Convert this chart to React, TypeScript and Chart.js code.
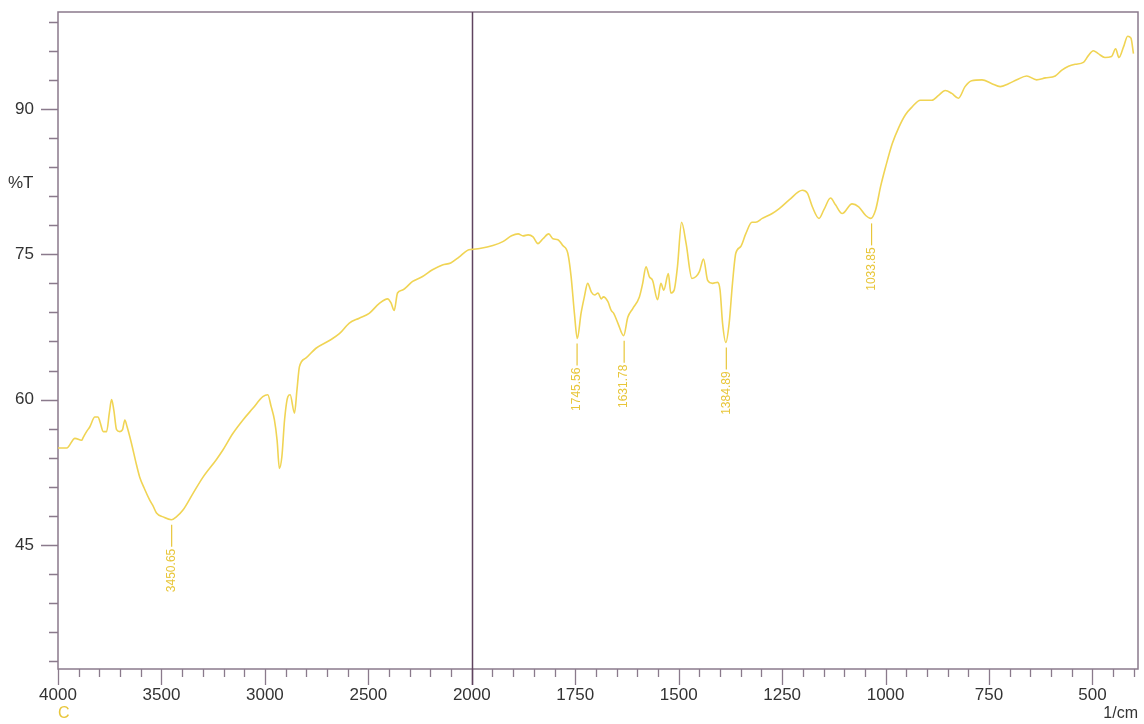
import { useEffect, useRef } from 'react';
import { Chart, LinearScale, registerables } from 'chart.js';

// ---- data ----
const wavenumbers = [
  4000, 3990, 3958, 3918, 3886, 3878, 3862, 3846, 3822, 3806, 3797, 3781, 3765, 3752, 3741, 3730, 3717, 3701, 3688, 3677,
  3666, 3645, 3621, 3605, 3580, 3556, 3540, 3524, 3492, 3452, 3428, 3396, 3348, 3299, 3235, 3203, 3155, 3106, 3058, 3010,
  2986, 2970, 2954, 2941, 2930, 2918, 2905, 2889, 2878, 2857, 2845, 2833, 2801, 2753, 2688, 2640, 2592, 2544, 2496, 2448,
  2407, 2391, 2375, 2359, 2335, 2286, 2238, 2190, 2142, 2102, 2062, 2021, 2000, 1981, 1949, 1925, 1904, 1888, 1876, 1864,
  1852, 1840, 1828, 1814, 1804, 1792, 1780, 1768, 1760, 1752, 1745, 1736, 1728, 1720, 1711, 1703, 1695, 1687, 1682, 1671,
  1663, 1657, 1647, 1633, 1623, 1611, 1595, 1587, 1579, 1571, 1563, 1551, 1543, 1536, 1525, 1519, 1511, 1503, 1493, 1482,
  1468, 1458, 1450, 1440, 1430, 1418, 1406, 1400, 1394, 1386, 1378, 1370, 1362, 1350, 1338, 1323, 1314, 1298, 1274, 1257,
  1233, 1201, 1189, 1177, 1161, 1149, 1133, 1121, 1105, 1081, 1065, 1048, 1036, 1024, 1012, 1000, 984, 968, 952, 936,
  916, 888, 872, 856, 840, 824, 808, 792, 767, 743, 723, 703, 683, 659, 635, 614, 590, 574, 558, 542,
  522, 510, 498, 486, 470, 454, 444, 436, 425, 415, 407, 401,
];
const transmittance = [
  55.0, 55.0, 55.0, 56.0, 55.8, 56.1, 56.7, 57.2, 58.2, 58.2, 57.7, 56.7, 56.7, 58.6, 60.0, 58.9, 56.9, 56.7, 56.9, 57.9,
  57.2, 55.5, 53.3, 52.0, 50.7, 49.6, 49.0, 48.3, 47.9, 47.6, 47.9, 48.6, 50.3, 52.0, 53.8, 54.8, 56.5, 57.9, 59.1, 60.3,
  60.5, 59.3, 57.9, 55.8, 52.9, 54.1, 57.9, 60.3, 60.5, 58.6, 61.0, 63.4, 64.3, 65.3, 66.1, 66.8, 67.9, 68.4, 68.9, 69.9,
  70.4, 70.0, 69.2, 71.0, 71.3, 72.2, 72.7, 73.4, 73.9, 74.1, 74.7, 75.4, 75.5, 75.6, 75.9, 76.3, 76.9, 77.1, 76.9, 77.0,
  76.8, 76.1, 76.6, 77.1, 76.6, 76.5, 75.9, 75.1, 72.7, 68.9, 66.3, 68.9, 70.6, 72.0, 71.1, 70.8, 71.0, 70.4, 70.6, 70.1,
  69.2, 68.9, 67.9, 66.6, 68.5, 69.4, 70.6, 72.0, 73.7, 72.7, 72.3, 70.3, 72.0, 71.3, 73.0, 71.0, 71.3, 73.7, 78.3, 76.1,
  72.5, 72.7, 73.2, 74.5, 72.3, 72.0, 72.1, 71.3, 67.9, 65.9, 67.9, 72.0, 75.1, 75.8, 77.1, 78.3, 78.3, 78.7, 79.2, 79.7,
  80.6, 81.6, 81.3, 79.9, 78.7, 79.6, 80.8, 80.1, 79.2, 80.2, 79.9, 79.0, 78.7, 79.6, 82.0, 84.0, 86.4, 88.1, 89.4, 90.2,
  90.9, 90.9, 91.4, 91.9, 91.6, 91.1, 92.3, 92.9, 93.0, 92.6, 92.3, 92.6, 93.0, 93.4, 93.0, 93.2, 93.4, 94.0, 94.4, 94.6,
  94.8, 95.5, 96.0, 95.7, 95.3, 95.4, 96.2, 95.3, 96.4, 97.5, 97.3, 95.7,
];
const peakWavenumbers = [3450.65, 1745.56, 1631.78, 1384.89, 1033.85];
const peakTransmittance = [47.6, 66.3, 66.6, 65.9, 78.7];
const xTickLabels = [4000, 3500, 3000, 2500, 2000, 1750, 1500, 1250, 1000, 750, 500];
const yTickLabels = [45, 60, 75, 90];

const X_MAX = 4000;
const X_MIN = 390;
const X_BREAK = 2000;
const Y_MIN = 32.2;
const Y_MAX = 100;

const LINE = '#f0d454';
const PEAK = '#e8c63a';
const AXIS = '#8a7a8c';
const BREAK_LINE = '#5f435f';
const TEXT = '#333333';
const FONT = '"Liberation Sans", Arial, Helvetica, sans-serif';

// left of the break, 1 unit = half the pixel width of a unit right of the break
function toU(w: number) {
  return w >= X_BREAK ? (X_MAX - w) / 2 : (X_MAX - X_BREAK) / 2 + (X_BREAK - w);
}
function fromU(u: number) {
  const half = (X_MAX - X_BREAK) / 2;
  return u <= half ? X_MAX - 2 * u : X_BREAK - (u - half);
}

class BrokenScale extends LinearScale {
  static id = 'broken';
  static defaults = { ...(LinearScale as any).defaults };
  buildTicks() {
    (this as any).start = this.min;
    (this as any).end = this.max;
    return xTickLabels.map((v) => ({ value: v }));
  }
  getPixelForValue(value: number) {
    const u0 = toU(this.max);
    const u1 = toU(this.min);
    return this.getPixelForDecimal((toU(value) - u0) / (u1 - u0));
  }
  getValueForPixel(pixel: number) {
    const u0 = toU(this.max);
    const u1 = toU(this.min);
    return fromU(u0 + this.getDecimalForPixel(pixel) * (u1 - u0));
  }
}

Chart.register(...registerables, BrokenScale as any);

const framePlugin = {
  id: 'frame',
  beforeDatasetsDraw(chart: any) {
    const { ctx, chartArea: a, scales } = chart;
    const x = scales.x;
    const y = scales.y;
    ctx.save();
    ctx.strokeStyle = AXIS;
    ctx.lineWidth = 1.5;
    ctx.strokeRect(a.left, a.top, a.right - a.left, a.bottom - a.top);
    ctx.lineWidth = 1.3;
    ctx.beginPath();
    for (let w = X_MAX; w >= 400; w -= w > X_BREAK ? 100 : 50) {
      const px = Math.round(x.getPixelForValue(w)) + 0.5;
      const major = xTickLabels.includes(w);
      ctx.moveTo(px, a.bottom);
      ctx.lineTo(px, a.bottom + (major ? 16 : 8));
    }
    for (let v = 33; v <= 99; v += 3) {
      const py = Math.round(y.getPixelForValue(v)) + 0.5;
      const major = yTickLabels.includes(v);
      ctx.moveTo(a.left, py);
      ctx.lineTo(a.left - (major ? 17 : 9), py);
    }
    ctx.stroke();
    const xb = Math.round(x.getPixelForValue(X_BREAK)) + 0.5;
    ctx.strokeStyle = BREAK_LINE;
    ctx.lineWidth = 1.5;
    ctx.beginPath();
    ctx.moveTo(xb, a.top);
    ctx.lineTo(xb, a.bottom + 16);
    ctx.stroke();
    ctx.restore();
  },
  afterDatasetsDraw(chart: any) {
    const { ctx, scales } = chart;
    const x = scales.x;
    const y = scales.y;
    ctx.save();
    ctx.strokeStyle = PEAK;
    ctx.fillStyle = PEAK;
    ctx.lineWidth = 1.2;
    ctx.font = `12px ${FONT}`;
    peakWavenumbers.forEach((w, i) => {
      const px = x.getPixelForValue(w);
      const py = y.getPixelForValue(peakTransmittance[i]);
      ctx.beginPath();
      ctx.moveTo(px, py + 5);
      ctx.lineTo(px, py + 27);
      ctx.stroke();
      ctx.save();
      ctx.translate(px, py + 29);
      ctx.rotate(-Math.PI / 2);
      ctx.textAlign = 'right';
      ctx.textBaseline = 'middle';
      ctx.fillText(w.toFixed(2), 0, 0);
      ctx.restore();
    });
    ctx.font = `17px ${FONT}`;
    ctx.textBaseline = 'middle';
    ctx.fillStyle = TEXT;
    ctx.textAlign = 'left';
    ctx.fillText('%T', 8, 183);
    ctx.font = `16px ${FONT}`;
    ctx.textAlign = 'right';
    ctx.fillText('1/cm', 1138, 714);
    ctx.fillStyle = PEAK;
    ctx.textAlign = 'left';
    ctx.fillText('C', 58, 714);
    ctx.restore();
  },
};

export default function App() {
  const ref = useRef<HTMLCanvasElement | null>(null);
  useEffect(() => {
    if (!ref.current) return;
    const chart = new Chart(ref.current, {
      type: 'line',
      data: {
        datasets: [
          {
            data: wavenumbers.map((w, i) => ({ x: w, y: transmittance[i] })),
            borderColor: LINE,
            borderWidth: 1.6,
            pointRadius: 0,
            fill: false,
            cubicInterpolationMode: 'monotone',
          },
        ],
      },
      options: {
        animation: false,
        responsive: true,
        maintainAspectRatio: false,
        layout: { padding: { top: 12, right: 6, left: 0, bottom: 0 } },
        plugins: { legend: { display: false }, title: { display: false }, tooltip: { enabled: false } },
        scales: {
          x: {
            type: 'broken' as any,
            min: X_MIN,
            max: X_MAX,
            grid: { display: false, drawTicks: false },
            border: { display: false },
            ticks: {
              autoSkip: false,
              maxRotation: 0,
              padding: 16,
              color: TEXT,
              font: { family: FONT, size: 17 },
              callback: (v: any) => String(v),
            },
            afterFit: (s: any) => {
              s.height = 55;
              s.paddingLeft = 0;
              s.paddingRight = 0;
              s.paddingTop = 0;
              s.paddingBottom = 0;
            },
          },
          y: {
            type: 'linear',
            min: Y_MIN,
            max: Y_MAX,
            grid: { display: false, drawTicks: false },
            border: { display: false },
            afterBuildTicks: (s: any) => {
              s.ticks = yTickLabels.map((v) => ({ value: v }));
            },
            ticks: {
              padding: 24,
              color: TEXT,
              font: { family: FONT, size: 17 },
              callback: (v: any) => String(v),
            },
            afterFit: (s: any) => {
              s.width = 58;
              s.paddingTop = 0;
              s.paddingBottom = 0;
              s.paddingLeft = 0;
              s.paddingRight = 0;
            },
          },
        },
      },
      plugins: [framePlugin],
    });
    return () => chart.destroy();
  }, []);
  return (
    <div style={{ position: 'fixed', left: 0, top: 0, width: 1144, height: 724, background: '#fff' }}>
      <canvas ref={ref} />
    </div>
  );
}
